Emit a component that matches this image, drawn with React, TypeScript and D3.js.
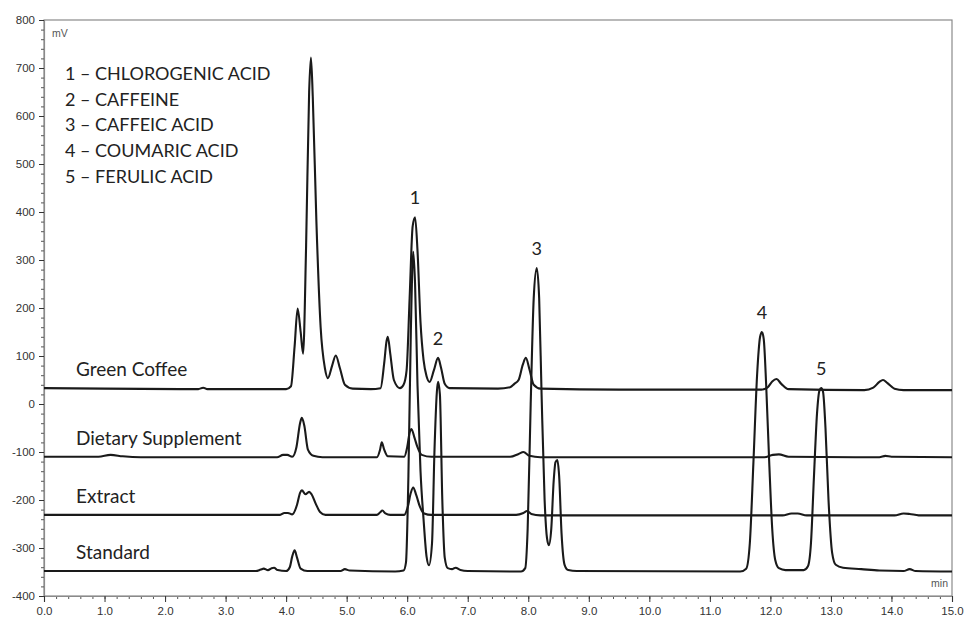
import React, { useEffect, useRef } from 'react';
import * as d3 from 'd3';

type Pt = [number, number];

// traces: [retention time (min), signal (mV)]
const TRACE_NAMES = ['Green Coffee', 'Dietary Supplement', 'Extract', 'Standard'];

const greenCoffee: Pt[] = [
  [0, 33], [1.0, 32], [2.55, 31], [2.63, 34], [2.7, 31], [4.0, 31], [4.08, 37], [4.14, 120], [4.19, 199],
  [4.24, 150], [4.28, 105], [4.33, 330], [4.38, 650], [4.41, 722], [4.44, 640], [4.5, 380], [4.57, 160],
  [4.64, 75], [4.69, 54], [4.76, 80], [4.82, 101], [4.89, 74], [4.97, 40], [5.1, 32], [5.4, 31],
  [5.56, 33], [5.62, 85], [5.66, 132], [5.68, 140], [5.72, 105], [5.78, 50], [5.88, 33], [5.94, 40],
  [5.99, 70], [6.04, 220], [6.09, 370], [6.13, 389], [6.17, 320], [6.22, 170], [6.27, 92], [6.32, 58],
  [6.37, 46], [6.44, 70], [6.51, 96], [6.56, 75], [6.62, 42], [6.7, 33], [7.5, 32], [7.7, 35],
  [7.77, 42], [7.84, 50], [7.91, 82], [7.96, 96], [8.02, 72], [8.09, 40], [8.2, 32], [9.5, 30],
  [11.85, 30], [11.95, 34], [12.03, 47], [12.1, 52], [12.18, 42], [12.3, 31], [13.55, 29], [13.7, 34],
  [13.8, 46], [13.86, 50], [13.93, 44], [14.05, 32], [14.2, 29], [15, 29],
];

const dietarySupplement: Pt[] = [
  [0, -110], [0.9, -110], [1.1, -106], [1.3, -109], [1.6, -111], [3.85, -111], [3.95, -106],
  [4.02, -106], [4.1, -110], [4.17, -90], [4.23, -40], [4.26, -29], [4.3, -45], [4.36, -95],
  [4.45, -108], [4.6, -111], [5.5, -111], [5.55, -96], [5.58, -80], [5.62, -95], [5.68, -109],
  [5.95, -110], [6.0, -90], [6.04, -60], [6.07, -52], [6.12, -70], [6.17, -90], [6.24, -106],
  [6.4, -110], [7.7, -110], [7.84, -104], [7.92, -100], [8.02, -108], [8.2, -111], [11.9, -111],
  [12.04, -106], [12.14, -105], [12.3, -110], [13.8, -111], [13.9, -108], [14.0, -110], [15, -111],
];

const extract: Pt[] = [
  [0, -231], [3.9, -231], [3.97, -227], [4.03, -227], [4.1, -230], [4.18, -210], [4.23, -185],
  [4.26, -180], [4.32, -188], [4.38, -183], [4.42, -188], [4.49, -208], [4.56, -225], [4.65, -231],
  [5.5, -231], [5.55, -226], [5.59, -222], [5.64, -228], [5.72, -231], [5.95, -231], [6.01, -214],
  [6.06, -185], [6.1, -174], [6.15, -190], [6.21, -214], [6.28, -228], [6.4, -231], [7.8, -231],
  [7.92, -227], [7.98, -223], [8.05, -229], [8.2, -232], [12.2, -232], [12.35, -228], [12.45, -228],
  [12.6, -232], [14.05, -232], [14.2, -228], [14.3, -229], [14.45, -232], [15, -232],
];

const standard: Pt[] = [
  [0, -348], [3.5, -348], [3.58, -345], [3.63, -343], [3.7, -346], [3.76, -342], [3.8, -341],
  [3.86, -346], [4.0, -348], [4.06, -340], [4.1, -318], [4.14, -305], [4.18, -320], [4.24, -343],
  [4.35, -348], [4.9, -348], [4.97, -344], [5.05, -347], [5.8, -349], [5.94, -347], [5.98, -330],
  [6.02, -150], [6.06, 150], [6.1, 317], [6.13, 250], [6.17, 40], [6.22, -140], [6.27, -240],
  [6.32, -318], [6.36, -336], [6.41, -290], [6.45, -100], [6.49, 25], [6.51, 46], [6.54, 20],
  [6.58, -200], [6.62, -320], [6.67, -342], [6.74, -344], [6.8, -341], [6.88, -346], [7.0, -348],
  [7.88, -349], [7.95, -342], [7.99, -260], [8.04, 0], [8.09, 220], [8.14, 283], [8.18, 220],
  [8.22, 20], [8.27, -200], [8.31, -280], [8.34, -294], [8.38, -260], [8.42, -160], [8.45, -121],
  [8.48, -117], [8.51, -150], [8.55, -270], [8.6, -335], [8.66, -346], [8.8, -348], [11.5, -349],
  [11.6, -343], [11.66, -290], [11.72, -120], [11.78, 60], [11.83, 140], [11.86, 150], [11.89, 135],
  [11.93, 40], [11.98, -120], [12.03, -260], [12.08, -325], [12.14, -342], [12.25, -346],
  [12.55, -346], [12.62, -338], [12.67, -290], [12.72, -150], [12.77, -20], [12.81, 28], [12.84, 33],
  [12.87, 25], [12.91, -50], [12.96, -200], [13.02, -310], [13.08, -335], [13.2, -341], [13.5, -344],
  [13.8, -347], [14.2, -348], [14.3, -344], [14.4, -348], [15, -349],
];

const TRACES = [greenCoffee, dietarySupplement, extract, standard];

const COMPOUNDS = [
  '1 – CHLOROGENIC ACID',
  '2 – CAFFEINE',
  '3 – CAFFEIC ACID',
  '4 – COUMARIC ACID',
  '5 – FERULIC ACID',
];

// peak numbers: [label, trace index, retention time]
const PEAK_LABELS: [string, number, number][] = [
  ['1', 0, 6.13],
  ['2', 0, 6.51],
  ['3', 3, 8.14],
  ['4', 3, 11.86],
  ['5', 3, 12.84],
];

const Y_TICKS = d3.range(-400, 801, 100);
const X_TICKS = d3.range(0, 15.01, 1);

const W = 967;
const H = 621;

const Chromatogram: React.FC = () => {
  const svgRef = useRef<SVGSVGElement>(null);

  useEffect(() => {
    if (!svgRef.current) return;
    const svg = d3.select(svgRef.current);
    svg.selectAll('*').remove();

    const margin = { top: 20, right: 15, bottom: 25, left: 44 };
    const x = d3.scaleLinear().domain([0, 15]).range([margin.left, W - margin.right]);
    const y = d3.scaleLinear().domain([-400, 800]).range([H - margin.bottom, margin.top]);

    const tickFont = 'Liberation Sans, Arial, sans-serif';
    const textFont = 'Lato, Open Sans, sans-serif';

    // frame
    svg.append('rect')
      .attr('x', margin.left).attr('y', margin.top)
      .attr('width', W - margin.left - margin.right)
      .attr('height', H - margin.top - margin.bottom)
      .attr('fill', 'none').attr('stroke', '#8a8a8a').attr('stroke-width', 1.2);

    // y axis minor + major
    svg.append('g')
      .attr('transform', `translate(${margin.left},0)`)
      .call(d3.axisLeft(y).tickValues(d3.range(-400, 801, 20)).tickSize(3).tickFormat(() => ''))
      .call(g => g.select('.domain').remove())
      .attr('color', '#555');
    svg.append('g')
      .attr('transform', `translate(${margin.left},0)`)
      .call(d3.axisLeft(y).tickValues(Y_TICKS).tickSize(5).tickPadding(4).tickFormat(d => String(d)))
      .call(g => g.select('.domain').attr('stroke', '#8a8a8a').attr('stroke-width', 1.2))
      .attr('font-family', tickFont).attr('font-size', 11.5)
      .attr('color', '#333');

    // x axis minor + major
    svg.append('g')
      .attr('transform', `translate(0,${H - margin.bottom})`)
      .call(d3.axisBottom(x).tickValues(d3.range(0, 15.01, 0.2)).tickSize(3).tickFormat(() => ''))
      .call(g => g.select('.domain').remove())
      .attr('color', '#555');
    svg.append('g')
      .attr('transform', `translate(0,${H - margin.bottom})`)
      .call(d3.axisBottom(x).tickValues(X_TICKS).tickSize(6).tickPadding(5).tickFormat(d3.format('.1f')))
      .call(g => g.select('.domain').attr('stroke', '#8a8a8a').attr('stroke-width', 1.2))
      .attr('font-family', tickFont).attr('font-size', 11.5)
      .attr('color', '#333');

    // units
    svg.append('text')
      .attr('x', margin.left + 8).attr('y', margin.top + 17)
      .attr('font-family', tickFont).attr('font-size', 10.5).attr('fill', '#555')
      .text('mV');
    svg.append('text')
      .attr('x', W - margin.right - 4).attr('y', H - margin.bottom - 9)
      .attr('text-anchor', 'end')
      .attr('font-family', tickFont).attr('font-size', 10.5).attr('fill', '#555')
      .text('min');

    // traces
    const line = d3.line<Pt>()
      .x(d => x(d[0]))
      .y(d => y(d[1]))
      .curve(d3.curveMonotoneX);

    svg.append('g')
      .selectAll('path')
      .data(TRACES)
      .join('path')
      .attr('d', d => line(d))
      .attr('fill', 'none')
      .attr('stroke', '#1a1a1a')
      .attr('stroke-width', 2.1)
      .attr('stroke-linejoin', 'round');

    // trace names
    svg.append('g')
      .selectAll('text')
      .data(TRACE_NAMES)
      .join('text')
      .attr('x', margin.left + 32)
      .attr('y', (_, i) => y(TRACES[i][0][1]) - 12)
      .attr('font-family', textFont)
      .attr('font-size', 19)
      .attr('fill', '#222')
      .text(d => d);

    // legend of compounds
    svg.append('g')
      .selectAll('text')
      .data(COMPOUNDS)
      .join('text')
      .attr('x', margin.left + 21)
      .attr('y', (_, i) => 80 + i * 25.7)
      .attr('font-family', textFont)
      .attr('font-size', 18)
      .attr('fill', '#222')
      .text(d => d);

    // peak numbers
    svg.append('g')
      .selectAll('text')
      .data(PEAK_LABELS)
      .join('text')
      .attr('x', d => x(d[2]))
      .attr('y', d => {
        const near = TRACES[d[1]].filter(p => Math.abs(p[0] - d[2]) < 0.1);
        return y(d3.max(near, p => p[1])!) - 13;
      })
      .attr('text-anchor', 'middle')
      .attr('font-family', textFont)
      .attr('font-size', 18)
      .attr('fill', '#222')
      .text(d => d[0]);
  }, []);

  return (
    <svg
      ref={svgRef}
      width={W}
      height={H}
      style={{ position: 'absolute', left: 0, top: 0, background: '#fff' }}
    />
  );
};

export default function App() {
  return <Chromatogram />;
}
